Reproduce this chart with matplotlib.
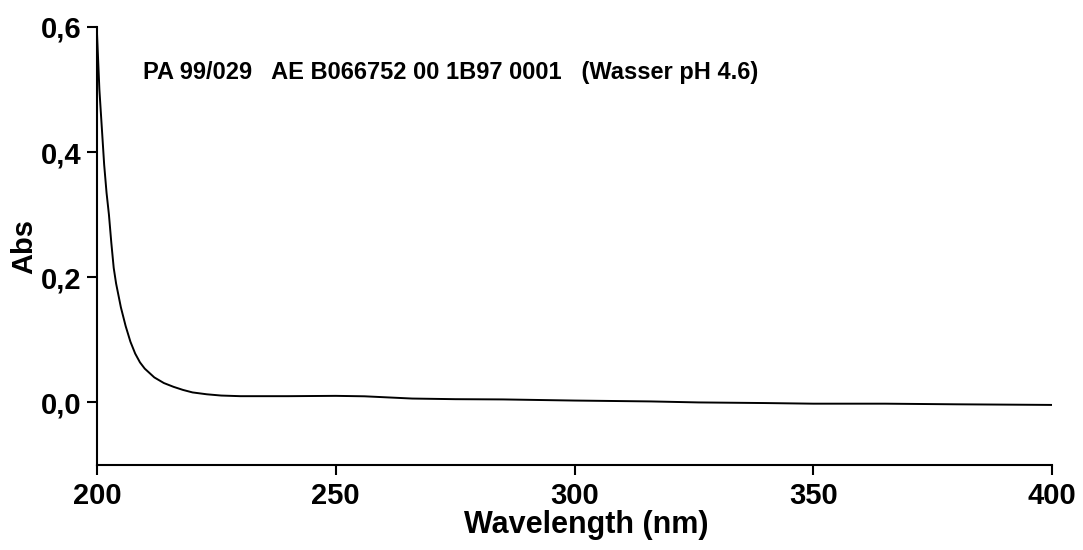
import matplotlib.pyplot as plt
import numpy as np

plt.rcParams['font.family'] = ['Liberation Sans', 'DejaVu Sans']
plt.rcParams['font.weight'] = 'bold'

# UV spectrum
wavelength = [200.0, 200.5, 201.0, 201.5, 202.0, 202.5, 203.0, 203.5, 204.0, 205.0,
              206.0, 207.0, 208.0, 209.0, 210.0, 212.0, 214.0, 216.0, 218.0, 220.0,
              223.0, 226.0, 230.0, 240.0, 250.0, 256.0, 261.0, 266.0, 275.0, 285.0,
              300.0, 316.0, 326.0, 340.0, 350.0, 365.0, 380.0, 400.0]
absorb = [0.590, 0.500, 0.440, 0.380, 0.335, 0.300, 0.255, 0.215, 0.190, 0.152,
          0.122, 0.097, 0.078, 0.064, 0.054, 0.040, 0.031, 0.025, 0.020, 0.016,
          0.013, 0.011, 0.010, 0.010, 0.0105, 0.0098, 0.0080, 0.0062, 0.0052, 0.0048,
          0.003, 0.0016, 0.000, -0.001, -0.002, -0.002, -0.003, -0.004]

xticks = [200, 250, 300, 350, 400]
yticks = [0.0, 0.2, 0.4, 0.6]
ytick_labels = ['0,0', '0,2', '0,4', '0,6']
note = 'PA 99/029   AE B066752 00 1B97 0001   (Wasser pH 4.6)'

fig = plt.figure(figsize=(10.83, 5.5), dpi=100)
ax = fig.add_axes([97 / 1083, 1 - 465 / 550, (1052 - 97) / 1083, (465 - 27) / 550])

ax.plot(wavelength, absorb, color='black', linewidth=1.4)

ax.set_xlim(200, 400)
ax.set_ylim(-0.1, 0.6)
ax.set_xticks(xticks)
ax.set_yticks(yticks)
ax.set_yticklabels(ytick_labels)

for side in ['top', 'right']:
    ax.spines[side].set_visible(False)
for side in ['left', 'bottom']:
    ax.spines[side].set_linewidth(1.5)

ax.tick_params(axis='y', direction='out', length=7, width=1.5, pad=4, labelsize=21)
ax.tick_params(axis='x', direction='out', length=7, width=1.5, pad=5, labelsize=21)
for lbl in ax.get_xticklabels() + ax.get_yticklabels():
    lbl.set_fontweight('bold')

ax.set_xlabel('Wavelength (nm)', fontsize=22, fontweight='bold', labelpad=0)
ax.xaxis.label.set_x(0.512)
ax.set_ylabel('Abs', fontsize=21, fontweight='bold', labelpad=2)

ax.text(209.6, 0.528, note, fontsize=17, fontweight='bold', va='center', ha='left')

fig.savefig('out.png', dpi=100)
